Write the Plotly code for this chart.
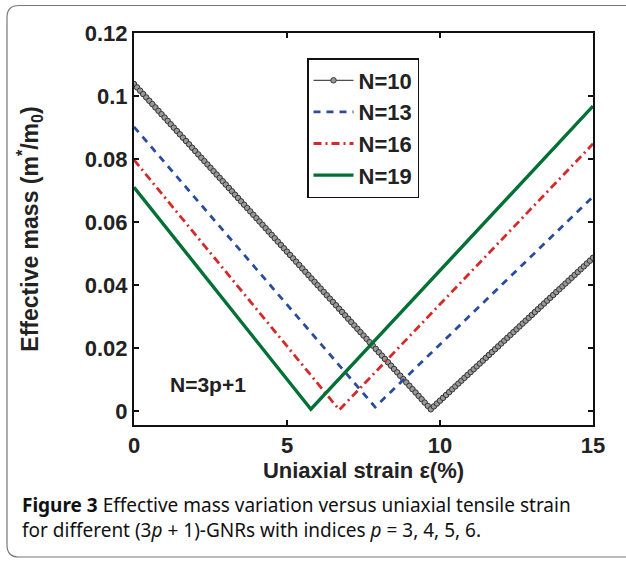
import numpy as np
import plotly.graph_objects as go

# ---- data (V-shaped piecewise-linear curves) ----
labels = ["N=10", "N=13", "N=16", "N=19"]
# vertices: strain at start, at minimum, at end
strain_vertices = {
    "N=10": [0.0, 9.70, 15.0],
    "N=13": [0.0, 7.88, 15.0],
    "N=16": [0.0, 6.71, 15.0],
    "N=19": [0.0, 5.78, 15.0],
}
mass_vertices = {
    "N=10": [0.1038, 0.0005, 0.0486],
    "N=13": [0.0902, 0.0012, 0.0680],
    "N=16": [0.0797, 0.0003, 0.0848],
    "N=19": [0.0710, 0.0005, 0.0968],
}
# sampling grid of the marker curve (N=10 is drawn with a marker at every 0.1 % step)
strain_grid_n10 = np.round(np.arange(0, 15.0001, 0.1), 2)

x_ticks = [0, 5, 10, 15]
y_ticks = [0, 0.02, 0.04, 0.06, 0.08, 0.1, 0.12]
y_tick_text = ["0", "0.02", "0.04", "0.06", "0.08", "0.1", "0.12"]

colors = {"N=10": "#111111", "N=13": "#2a4c9e", "N=16": "#d42a2a", "N=19": "#007034"}

W, H = 626, 561
L, R, T, B = 134, 593, 33, 425  # plot area in px


def px_x(p):
    return (p - L) / (R - L)


def px_y(p):
    return (B - p) / (B - T)


fig = go.Figure()

# N=10: thin black line with grey circle markers
y10 = np.interp(strain_grid_n10, strain_vertices["N=10"], mass_vertices["N=10"])
fig.add_trace(go.Scatter(
    x=strain_grid_n10, y=y10, name="N=10", mode="lines+markers",
    line=dict(color="#222222", width=1),
    marker=dict(symbol="circle", size=5.5, color="#999999", line=dict(color="#333333", width=1)),
))
fig.add_trace(go.Scatter(
    x=strain_vertices["N=13"], y=mass_vertices["N=13"], name="N=13", mode="lines",
    line=dict(color=colors["N=13"], width=2.8, dash="7px,6px"),
))
fig.add_trace(go.Scatter(
    x=strain_vertices["N=16"], y=mass_vertices["N=16"], name="N=16", mode="lines",
    line=dict(color=colors["N=16"], width=2.8, dash="8px,4px,2px,4px"),
))
fig.add_trace(go.Scatter(
    x=strain_vertices["N=19"], y=mass_vertices["N=19"], name="N=19", mode="lines",
    line=dict(color=colors["N=19"], width=3.4),
))

axis_font = dict(family="Liberation Sans, Arial, sans-serif", size=22, color="#222222")

fig.update_layout(
    width=W, height=H,
    margin=dict(l=L, r=W - R, t=T, b=H - B),
    paper_bgcolor="white", plot_bgcolor="white",
    showlegend=True,
    legend=dict(
        x=px_x(307), y=px_y(58), xanchor="left", yanchor="top",
        bgcolor="white", bordercolor="#111111", borderwidth=1.5,
        font=dict(family="Liberation Sans, Arial, sans-serif", size=22, color="#222222", weight="bold"),
        itemwidth=40, tracegroupgap=0,
    ),
    xaxis=dict(
        range=[0, 15], tickvals=x_ticks, ticktext=[str(v) for v in x_ticks],
        ticks="inside", ticklen=5, tickwidth=1.5, tickcolor="#111111",
        showline=True, linecolor="#111111", linewidth=2, mirror="ticks",
        showgrid=False, zeroline=False,
        tickfont=dict(axis_font, weight="bold"),
        title=dict(text="Uniaxial strain ε(%)", font=dict(axis_font, weight="bold"), standoff=2),
    ),
    yaxis=dict(
        range=[-0.0045, 0.12], tickvals=y_ticks, ticktext=y_tick_text,
        ticks="inside", ticklen=5, tickwidth=1.5, tickcolor="#111111",
        showline=True, linecolor="#111111", linewidth=2, mirror="ticks",
        showgrid=False, zeroline=False,
        tickfont=dict(axis_font, weight="bold"),
        title=dict(text="Effective mass (m<sup>*</sup>/m<sub>0</sub>)",
                   font=dict(family="Liberation Sans, Arial, sans-serif", size=23, color="#222222", weight="bold"),
                   standoff=40),
    ),
)

# in-plot label
fig.add_annotation(
    x=2.42, y=0.0083, xref="x", yref="y", text="<b>N=3p+1</b>", showarrow=False,
    font=dict(family="Liberation Sans, Arial, sans-serif", size=21, color="#222222"),
)

# caption
fig.add_annotation(
    x=px_x(20), y=px_y(490), xref="paper", yref="paper", xanchor="left", yanchor="top",
    align="left", showarrow=False,
    text=("<b>Figure 3</b> Effective mass variation versus uniaxial tensile strain<br>"
          "for different (3<i>p</i> + 1)-GNRs with indices <i>p</i> = 3, 4, 5, 6."),
    font=dict(family="Noto Sans, sans-serif", size=19, color="#111111"),
)

# outer rounded frame (right side runs off the picture)
x0, x1, y0, y1, r = px_x(7), px_x(660), px_y(5.5), px_y(557), 12
rx, ry = r / (R - L), r / (B - T)
path = (f"M {x0+rx},{y0} L {x1},{y0} L {x1},{y1} L {x0+rx},{y1} "
        f"Q {x0},{y1} {x0},{y1+ry} L {x0},{y0-ry} Q {x0},{y0} {x0+rx},{y0}")
fig.add_shape(type="path", path=path, xref="paper", yref="paper",
              line=dict(color="#777777", width=1.2), layer="below")

fig.write_html("out.html")
